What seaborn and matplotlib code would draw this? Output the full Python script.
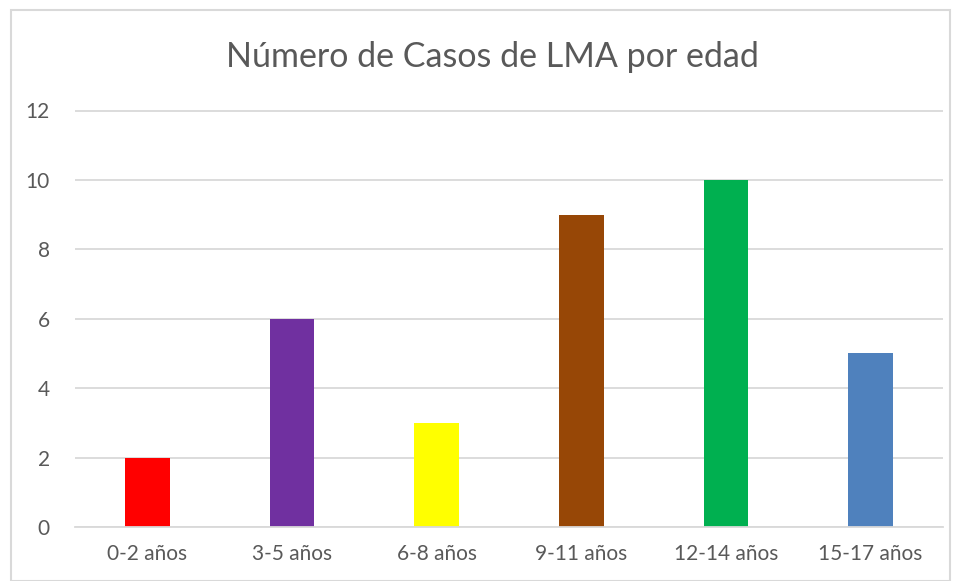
import matplotlib
matplotlib.use("Agg")
import matplotlib.pyplot as plt
import seaborn as sns
import pandas as pd
from matplotlib.patches import Rectangle

categories = ["0-2 años", "3-5 años", "6-8 años", "9-11 años", "12-14 años", "15-17 años"]
values = [2, 6, 3, 9, 10, 5]
colors = ["#FF0000", "#7030A0", "#FFFF00", "#974706", "#00B050", "#4F81BD"]
title = "Número de Casos de LMA por edad"
yticks = [0, 2, 4, 6, 8, 10, 12]

sns.set_theme(style="white")
plt.rcParams["font.family"] = ["Lato", "DejaVu Sans"]

W, H = 957, 581
fig = plt.figure(figsize=(W / 100, H / 100), dpi=100)
ax = fig.add_axes([75 / W, (H - 527) / H, (943 - 75) / W, (527 - 110.5) / H])

df = pd.DataFrame({"cat": categories, "val": values})
sns.barplot(data=df, x="cat", y="val", hue="cat", palette=colors, legend=False,
            width=0.31, ax=ax, saturation=1, linewidth=0)

ax.set_xlim(-0.5, len(categories) - 0.5)
ax.set_ylim(0, 12)
ax.set_yticks(yticks)
ax.set_yticklabels([str(t) for t in yticks])
ax.yaxis.grid(True, color="#D9D9D9", linewidth=1.3)
ax.set_axisbelow(True)
for s in ["top", "right", "left"]:
    ax.spines[s].set_visible(False)
ax.spines["bottom"].set_color("#D9D9D9")
ax.spines["bottom"].set_linewidth(1.3)
ax.set_xlabel("")
ax.set_ylabel("")
ax.tick_params(axis="both", length=0, labelsize=15, labelcolor="#595959")
ax.tick_params(axis="y", pad=18)
ax.tick_params(axis="x", pad=12)

fig.text(492 / W, 1 - 57 / H, title, ha="center", va="center",
         fontsize=24.5, color="#595959")

fig.patches.append(Rectangle((11 / W, 0 / H), (950 - 11) / W, (H - 10) / H,
                             transform=fig.transFigure, fill=False,
                             edgecolor="#D9D9D9", linewidth=1.5))

fig.savefig("out.png", dpi=100)
